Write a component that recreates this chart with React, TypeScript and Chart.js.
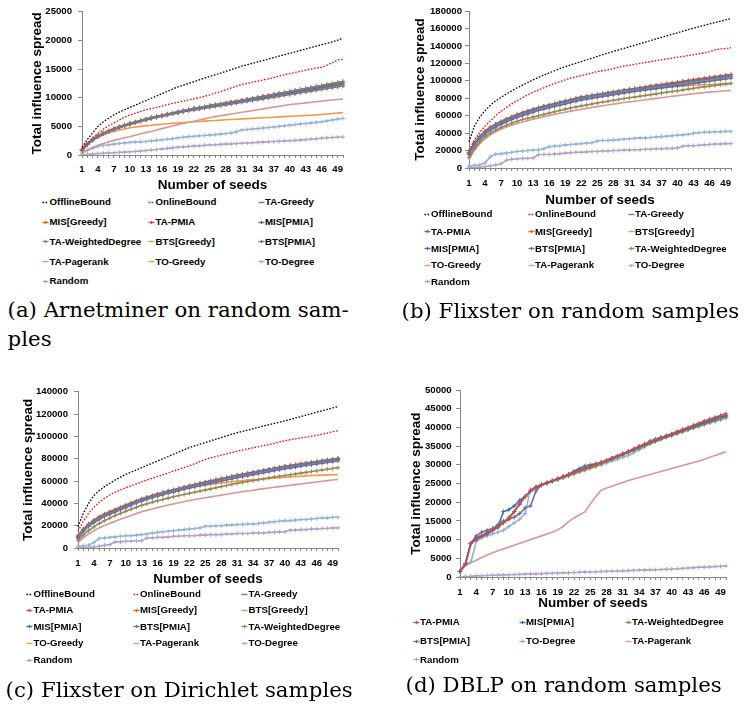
import React, { useEffect, useRef } from 'react';
import { Chart, registerables } from 'chart.js';
Chart.register(...registerables);

const SEEDS = ['1','2','3','4','5','6','7','8','9','10','11','12','13','14','15','16','17','18','19','20','21','22','23','24','25','26','27','28','29','30','31','32','33','34','35','36','37','38','39','40','41','42','43','44','45','46','47','48','49','50'];

// ---------- (a) Arnetminer on random samples ----------
const A_OFFLINE = [1350,2700,3900,5000,5800,6400,7000,7500,7900,8300,8700,9100,9500,9900,10300,10700,11100,11500,11900,12200,12500,12800,13100,13400,13700,14000,14300,14600,14900,15200,15500,15750,16000,16250,16500,16750,17000,17250,17500,17750,18000,18250,18500,18750,19000,19250,19500,19750,20050,20400];
const A_ONLINE = [1000,2000,3000,3800,4500,5100,5600,6100,6600,7000,7300,7600,7900,8100,8300,8550,8800,9000,9200,9400,9600,9800,10000,10250,10500,10800,11100,11400,11700,12000,12300,12500,12700,12900,13100,13300,13500,13750,14000,14200,14400,14600,14800,15000,15200,15300,15700,16100,16600,16700];
const A_TA_GREEDY = [900,1900,2700,3300,3800,4200,4600,4900,5200,5500,5750,6000,6250,6500,6700,6900,7100,7300,7500,7700,7900,8100,8250,8400,8600,8750,8900,9050,9200,9350,9500,9670,9840,10010,10180,10350,10520,10690,10860,11030,11200,11370,11540,11710,11880,12050,12220,12390,12560,12730];
const A_MIS_GREEDY = [950,1950,2750,3350,3850,4250,4650,4950,5250,5550,5800,6050,6300,6550,6750,6950,7150,7350,7550,7750,7950,8150,8300,8450,8650,8800,8950,9100,9250,9400,9550,9720,9890,10060,10230,10400,10570,10740,10910,11080,11250,11420,11590,11760,11930,12100,12280,12460,12640,12820];
const A_TA_PMIA = [880,1880,2680,3280,3780,4180,4580,4880,5180,5480,5730,5980,6230,6480,6690,6890,7090,7290,7490,7690,7890,8090,8240,8400,8600,8760,8920,9080,9240,9400,9560,9730,9900,10070,10240,10410,10580,10750,10920,11090,11260,11430,11600,11770,11940,12110,12280,12450,12620,12800];
const A_MIS_PMIA = [850,1850,2650,3250,3750,4150,4550,4850,5150,5450,5700,5950,6200,6450,6650,6850,7050,7250,7450,7650,7850,8050,8200,8350,8550,8700,8850,9000,9150,9300,9450,9610,9770,9930,10090,10250,10410,10570,10730,10890,11050,11210,11370,11530,11690,11850,12010,12170,12330,12500];
const A_TA_WD = [800,1800,2600,3200,3700,4100,4500,4800,5100,5400,5650,5900,6150,6400,6600,6800,7000,7200,7400,7600,7800,7950,8100,8250,8450,8600,8750,8900,9050,9200,9350,9500,9650,9800,9950,10100,10250,10400,10550,10700,10850,11000,11150,11300,11450,11600,11750,11900,12050,12200];
const A_BTS_GREEDY = [900,1900,2700,3300,3800,4200,4600,4900,5200,5500,5750,6000,6250,6500,6700,6900,7100,7300,7500,7700,7900,8050,8200,8350,8550,8700,8850,9000,9150,9300,9450,9600,9750,9900,10050,10200,10350,10500,10650,10800,10950,11100,11250,11400,11550,11700,11850,12000,12150,12300];
const A_BTS_PMIA = [850,1800,2600,3200,3700,4100,4450,4750,5050,5350,5600,5850,6100,6350,6550,6750,6950,7150,7350,7550,7700,7850,8000,8150,8300,8450,8600,8750,8900,9050,9200,9350,9500,9650,9800,9950,10100,10250,10400,10550,10700,10850,11000,11150,11300,11450,11600,11750,11900,12050];
const A_TA_PAGERANK = [400,900,1300,1700,2000,2300,2550,2800,3000,3200,3450,3700,3900,4100,4350,4600,4850,5050,5300,5500,5700,5900,6100,6300,6500,6700,6850,7000,7150,7300,7450,7600,7750,7900,8050,8200,8350,8500,8650,8800,8900,9000,9100,9200,9300,9400,9500,9600,9700,9800];
const A_TO_GREEDY = [900,1800,2500,3100,3500,3850,4100,4350,4550,4750,4900,5000,5100,5200,5300,5380,5450,5520,5580,5650,5720,5790,5850,5910,5970,6030,6090,6150,6200,6250,6300,6350,6400,6450,6500,6550,6600,6650,6700,6750,6800,6850,6900,6950,7000,7080,7160,7240,7320,7400];
const A_TO_DEGREE = [300,800,1200,1500,1650,1800,1900,2000,2100,2200,2250,2300,2350,2450,2550,2650,2750,2850,3000,3100,3200,3250,3350,3400,3500,3550,3650,3750,3850,4050,4350,4450,4550,4600,4700,4800,4900,5000,5100,5200,5300,5400,5500,5600,5700,5800,5950,6100,6250,6400];
const A_RANDOM = [0,100,200,250,300,350,400,450,500,560,620,700,780,860,950,1050,1150,1250,1350,1420,1480,1550,1620,1680,1740,1800,1850,1900,1950,2000,2050,2100,2150,2200,2250,2300,2350,2400,2450,2500,2550,2600,2680,2760,2840,2920,3000,3050,3100,3150];

// ---------- (b) Flixster on random samples ----------
const B_OFFLINE = [30000,48000,58000,66000,72000,77000,81000,85000,88500,92000,95000,98000,101000,104000,106500,109000,111500,114000,116000,118000,120000,122000,124000,126000,128000,130000,131800,133600,135400,137200,139000,140800,142600,144400,146200,148000,149800,151600,153300,155000,156800,158600,160400,162000,163600,165200,166800,168300,169800,171300];
const B_ONLINE = [20000,32000,41000,48000,54000,60000,65000,69500,73500,77000,80500,84000,87000,89500,92000,94500,97000,99000,101000,103000,104500,106000,107500,109000,110500,111500,112500,114000,115500,117000,118000,119000,120000,121000,122000,123000,124000,125000,126000,127000,128000,129000,130000,131000,132000,133500,135500,136500,137000,138000];
const B_TA_GREEDY = [17000,28000,35500,41500,46000,49500,52500,55500,58000,60500,62500,64500,66500,68500,70000,71500,73000,74500,76000,77500,79000,80500,81500,82500,83500,84500,85500,86500,87500,88500,89500,90300,91100,91900,92700,93500,94300,95100,95900,96700,97600,98500,99400,100300,101200,102100,103000,103900,104800,105700];
const B_TA_PMIA = [17500,28500,36000,42000,46500,50000,53000,56000,58600,61100,63200,65200,67200,69200,70800,72300,73800,75300,76800,78300,79800,81300,82300,83300,84300,85300,86300,87300,88300,89300,90300,91200,92100,93000,93900,94800,95700,96600,97500,98400,99300,100200,101100,102000,102900,103800,104700,105500,106300,107100];
const B_MIS_GREEDY = [17500,28500,36000,42000,46500,50000,53000,56000,58500,61000,63000,65000,67000,69000,70600,72100,73600,75100,76600,78100,79600,81000,82000,83000,84000,85000,86000,87000,88000,89000,90000,90900,91800,92700,93600,94500,95400,96300,97200,98100,99000,99900,100800,101700,102600,103500,104400,105200,106000,106800];
const B_BTS_GREEDY = [16500,27500,35000,41000,45500,49000,52000,55000,57500,60000,62000,64000,66000,68000,69500,71000,72500,74000,75500,77000,78500,80000,81000,82000,83000,84000,85000,86000,87000,88000,89000,89800,90600,91400,92200,93000,93800,94600,95400,96200,97000,97900,98800,99700,100600,101500,102400,103300,104100,104900];
const B_MIS_PMIA = [16500,27000,34500,40500,45000,48500,51500,54500,57000,59500,61500,63500,65500,67500,69000,70500,72000,73500,75000,76500,78000,79500,80500,81500,82500,83500,84500,85500,86500,87500,88500,89300,90100,90900,91700,92500,93300,94100,94900,95700,96600,97500,98400,99300,100200,101100,102000,102900,103800,104700];
const B_BTS_PMIA = [15500,26000,33500,39000,43500,47000,50000,53000,55500,58000,60000,62000,64000,66000,67500,69000,70500,72000,73500,75000,76500,78000,79000,80000,81000,82000,83000,84000,85000,86000,87000,87800,88600,89400,90200,91000,91800,92600,93400,94200,95000,95900,96800,97700,98600,99500,100400,101300,102200,103000];
const B_TA_WD = [12000,22000,30000,36000,40000,43500,46500,49000,51500,53500,55500,57000,58500,60000,61500,63000,64500,66000,67500,68800,70000,71200,72300,73400,74500,75600,76600,77600,78600,79600,80500,81400,82300,83200,84100,85000,85900,86800,87700,88600,89500,90400,91300,92200,93000,93800,94600,95400,96200,97000];
const B_TO_GREEDY = [18000,29000,36500,42500,47000,50500,53500,56500,59000,61500,63500,65500,67500,69300,70800,72300,73700,75000,76300,77600,78800,80000,81000,82000,83000,83900,84800,85700,86500,87300,88000,88700,89400,90100,90700,91300,91900,92500,93000,93500,94000,94400,94800,95200,95500,95800,96100,96400,96700,97000];
const B_TA_PAGERANK = [10000,20000,27500,33500,38000,41500,44500,47000,49000,51000,52800,54400,56000,57400,58800,60200,61500,62800,64000,65200,66300,67400,68400,69400,70400,71400,72300,73200,74100,75000,75800,76600,77400,78200,79000,79800,80600,81400,82200,83000,83700,84400,85100,85800,86500,87000,87500,88000,88500,89000];
const B_TO_DEGREE = [2000,3000,3500,6000,13000,16000,16500,17000,18000,19000,19500,20000,20500,21000,22000,24500,25000,25500,26500,27000,27500,28000,28500,29000,31000,31500,31500,32000,32500,33000,33500,34000,34500,34500,35000,35500,36000,36500,37000,37500,38000,38500,40000,40500,41000,41000,41500,41500,42000,42000];
const B_RANDOM = [0,500,1000,1500,2500,3500,5000,9000,10000,10500,11000,11000,11500,15500,15500,15500,16000,16500,17000,17500,18000,18000,18500,19000,19000,19500,19500,20000,20000,20500,20500,21000,21000,21500,21500,22000,22000,22500,22500,23000,25000,25500,25500,26000,26500,27000,27500,27500,28000,28000];

// ---------- (c) Flixster on Dirichlet samples ----------
const C_OFFLINE = [19000,31000,40000,47000,51500,55000,58000,61000,63500,66000,68000,70000,72000,74000,76000,78000,80000,82000,84000,86000,88000,90000,91500,93000,94500,96000,97500,99000,100500,102000,103300,104500,105700,106900,108100,109300,110500,111700,112800,113900,115200,116500,117800,119100,120400,121700,123000,124300,125500,126700];
const C_ONLINE = [15000,24000,31000,36500,41000,44500,47500,50000,52000,54000,55800,57500,59200,60900,62500,64100,65700,67300,68900,70500,72100,73700,75500,77500,79500,80800,82000,83200,84400,85600,86800,87800,88800,89800,90800,91800,92800,93800,95000,96200,97000,97800,98600,99400,100200,101000,102000,103000,104200,105200];
const C_TA_GREEDY = [10000,16000,20500,24000,27000,29500,31500,33500,35500,37500,39500,41500,43300,44900,46400,47800,49100,50400,51600,52800,54000,55200,56300,57400,58500,59600,60600,61600,62600,63600,64600,65500,66400,67300,68200,69100,70000,70900,71800,72700,73400,74100,74800,75500,76200,76900,77600,78300,79000,79700];
const C_TA_PMIA = [10500,16500,21000,24500,27500,30000,32000,34000,36000,38000,40000,42000,43800,45400,46900,48300,49600,50900,52100,53300,54500,55700,56800,57900,59000,60100,61100,62100,63100,64100,65100,66000,66900,67800,68700,69600,70500,71400,72300,73200,73900,74600,75300,76000,76700,77400,78100,78800,79500,80200];
const C_MIS_GREEDY = [11000,17000,21500,25000,28000,30500,32500,34500,36500,38500,40300,42100,43900,45500,47000,48400,49700,51000,52200,53400,54600,55800,56900,58000,59100,60200,61200,62200,63200,64200,65200,66100,67000,67900,68800,69700,70600,71500,72400,73300,74000,74700,75400,76100,76800,77500,78200,78900,79600,80400];
const C_BTS_GREEDY = [9800,15800,20300,23800,26800,29300,31300,33300,35300,37300,39300,41300,43100,44700,46200,47600,48900,50200,51400,52600,53800,55000,56100,57200,58300,59400,60400,61400,62400,63400,64400,65300,66200,67100,68000,68900,69800,70700,71600,72500,73200,73900,74600,75300,76000,76700,77400,78100,78800,79500];
const C_MIS_PMIA = [9500,15500,20000,23500,26500,29000,31000,33000,35000,37000,39000,41000,42800,44400,45900,47300,48600,49900,51100,52300,53500,54700,55800,56900,58000,59100,60100,61100,62100,63100,64100,65000,65900,66800,67700,68600,69500,70400,71300,72200,72900,73600,74300,75000,75700,76400,77100,77800,78500,79200];
const C_BTS_PMIA = [9000,14800,19300,22800,25800,28300,30300,32300,34300,36300,38300,40300,42000,43600,45100,46500,47700,49000,50200,51400,52600,53800,54900,56000,57000,58000,59000,60000,61000,62000,63000,63900,64800,65700,66600,67500,68400,69300,70200,71100,71800,72500,73200,73900,74600,75300,76000,76700,77400,78100];
const C_TA_WD = [7000,11500,15500,19000,22000,24500,26800,29000,31000,33000,34800,36500,38200,39600,41000,42300,43500,44700,45900,47000,48000,49000,50000,51000,52000,53000,54000,55000,56000,57000,58000,58800,59600,60400,61200,62000,62800,63600,64300,65000,65700,66400,67100,67800,68500,69200,69900,70600,71300,72000];
const C_TO_GREEDY = [11000,17000,21500,25000,28000,30500,32500,34500,36500,38300,40000,41700,43300,44800,46200,47600,48900,50100,51200,52200,53100,54000,54800,55600,56300,57000,57600,58200,58800,59400,60000,60400,60800,61200,61600,62000,62400,62800,63100,63400,63700,64000,64300,64600,64900,65100,65300,65500,65700,65900];
const C_TA_PAGERANK = [5000,9000,12500,15500,18000,20200,22200,24000,25800,27500,29200,30800,32400,33700,35000,36200,37400,38500,39500,40500,41500,42500,43400,44200,45000,45800,46600,47400,48200,49000,49700,50400,51100,51800,52500,53200,53800,54400,55000,55600,56200,56800,57400,58000,58600,59200,59800,60400,61000,61500];
const C_TO_DEGREE = [1500,2000,2500,5000,8500,9000,9500,10000,10500,11000,11000,11500,12000,12500,13500,14000,14500,15000,15500,16000,16500,17000,17500,18000,19500,19500,20000,20000,20500,20500,21000,21000,21500,21500,22000,22500,23000,23500,24000,24500,24500,25000,25500,25500,26000,26500,27000,27000,27500,27500];
const C_RANDOM = [0,500,500,1000,1500,2500,3000,5500,5500,6000,6000,6500,6500,9000,9000,9500,9500,10000,10500,10500,11000,11000,11000,11500,11500,12000,12000,12000,12500,12500,13000,13000,13000,13500,13500,13500,14000,14000,14500,14500,16000,16000,16500,16500,17000,17000,17500,17500,18000,18000];

// ---------- (d) DBLP on random samples ----------
const D_TA_PMIA = [1500,3500,9000,10000,11000,12000,12500,13500,14500,15500,17500,19500,21500,23000,24000,24700,25200,25700,26300,26800,27400,28000,28500,29100,29600,30100,30600,31200,31800,32400,33000,33600,34300,35000,35600,36200,36800,37300,37800,38300,38900,39500,40000,40600,41100,41700,42200,42700,43200,43700];
const D_MIS_PMIA = [1500,3500,9000,10500,11000,11500,12500,13500,17500,18000,19000,20500,21500,23000,24000,24700,25200,25700,26300,26900,27500,28300,29000,29700,30000,30300,30700,31200,31800,32300,32900,33500,34100,34800,35400,36000,36600,37100,37600,38100,38700,39200,39700,40300,40800,41300,41800,42300,42800,43200];
const D_TA_WD = [1500,3500,9000,10000,10800,11600,12400,13200,14500,16000,17500,19500,21500,23000,24000,24600,25100,25600,26100,26600,27100,27700,28200,28700,29200,29700,30200,30800,31400,32000,32600,33200,33800,34400,35000,35600,36200,36800,37300,37800,38300,38800,39300,39800,40300,40800,41300,41800,42300,42800];
const D_BTS_PMIA = [1500,3500,9000,11000,12000,12500,13000,14000,15000,15500,16000,17000,18500,19000,23000,24600,25200,25700,26200,26800,27400,28000,28500,29000,29500,30000,30500,31100,31700,32300,32900,33500,34100,34800,35400,36000,36500,37000,37500,38000,38500,39000,39500,40000,40500,41000,41500,42000,42500,43000];
const D_TO_DEGREE = [1500,3500,4000,9500,10500,11000,11500,12000,12500,13500,14500,15500,17000,23500,24000,24500,25000,25500,26000,26500,27000,27500,28000,28500,29000,29500,30000,30500,31000,31500,32000,32500,33200,34000,34800,36500,37000,37400,37800,38200,38600,39000,39500,40000,40400,40800,41200,41600,42000,42500];
const D_TA_PAGERANK = [1500,3000,3800,4500,5200,5900,6500,7000,7500,8000,8500,9000,9500,10000,10500,11000,11500,12000,12600,13500,14800,15800,16600,17400,19500,21500,23200,23800,24300,24800,25300,25800,26200,26600,27000,27400,27800,28200,28600,29000,29400,29800,30200,30600,31000,31500,32000,32500,33000,33500];
const D_RANDOM = [0,150,200,300,350,400,480,500,560,600,650,700,780,800,850,900,980,1000,1050,1100,1150,1200,1280,1300,1350,1400,1480,1500,1550,1600,1650,1700,1780,1800,1850,1900,1950,2000,2050,2100,2200,2300,2400,2500,2600,2650,2700,2800,2850,2950];

const SANS = "'Liberation Sans', Arial, sans-serif";
const SERIF = "'DejaVu Serif', serif";

type Style = { color: string; dash?: boolean; marker?: boolean };
const STYLE: Record<string, Style> = {
  'OfflineBound': { color: '#000000', dash: true },
  'OnlineBound': { color: '#FF0000', dash: true },
  'TA-Greedy': { color: '#4F81BD' },
  'MIS[Greedy]': { color: '#E46C0A', marker: true },
  'TA-PMIA': { color: '#C0504D', marker: true },
  'MIS[PMIA]': { color: '#3C6EB4', marker: true },
  'TA-WeightedDegree': { color: '#948A54', marker: true },
  'BTS[Greedy]': { color: '#9BBB59' },
  'BTS[PMIA]': { color: '#8064A2', marker: true },
  'TA-Pagerank': { color: '#D99694' },
  'TO-Greedy': { color: '#F79646' },
  'TO-Degree': { color: '#95B3D7', marker: true },
  'Random': { color: '#B3A2C7', marker: true },
};

const ORDER_A = ['OfflineBound','OnlineBound','TA-Greedy','MIS[Greedy]','TA-PMIA','MIS[PMIA]','TA-WeightedDegree','BTS[Greedy]','BTS[PMIA]','TA-Pagerank','TO-Greedy','TO-Degree','Random'];
const ORDER_BC = ['OfflineBound','OnlineBound','TA-Greedy','TA-PMIA','MIS[Greedy]','BTS[Greedy]','MIS[PMIA]','BTS[PMIA]','TA-WeightedDegree','TO-Greedy','TA-Pagerank','TO-Degree','Random'];
const ORDER_D = ['TA-PMIA','MIS[PMIA]','TA-WeightedDegree','BTS[PMIA]','TO-Degree','TA-Pagerank','Random'];

const DATA_A: Record<string, number[]> = {
  'OfflineBound': A_OFFLINE, 'OnlineBound': A_ONLINE, 'TA-Greedy': A_TA_GREEDY, 'MIS[Greedy]': A_MIS_GREEDY,
  'TA-PMIA': A_TA_PMIA, 'MIS[PMIA]': A_MIS_PMIA, 'TA-WeightedDegree': A_TA_WD, 'BTS[Greedy]': A_BTS_GREEDY,
  'BTS[PMIA]': A_BTS_PMIA, 'TA-Pagerank': A_TA_PAGERANK, 'TO-Greedy': A_TO_GREEDY, 'TO-Degree': A_TO_DEGREE, 'Random': A_RANDOM,
};
const DATA_B: Record<string, number[]> = {
  'OfflineBound': B_OFFLINE, 'OnlineBound': B_ONLINE, 'TA-Greedy': B_TA_GREEDY, 'TA-PMIA': B_TA_PMIA,
  'MIS[Greedy]': B_MIS_GREEDY, 'BTS[Greedy]': B_BTS_GREEDY, 'MIS[PMIA]': B_MIS_PMIA, 'BTS[PMIA]': B_BTS_PMIA,
  'TA-WeightedDegree': B_TA_WD, 'TO-Greedy': B_TO_GREEDY, 'TA-Pagerank': B_TA_PAGERANK, 'TO-Degree': B_TO_DEGREE, 'Random': B_RANDOM,
};
const DATA_C: Record<string, number[]> = {
  'OfflineBound': C_OFFLINE, 'OnlineBound': C_ONLINE, 'TA-Greedy': C_TA_GREEDY, 'TA-PMIA': C_TA_PMIA,
  'MIS[Greedy]': C_MIS_GREEDY, 'BTS[Greedy]': C_BTS_GREEDY, 'MIS[PMIA]': C_MIS_PMIA, 'BTS[PMIA]': C_BTS_PMIA,
  'TA-WeightedDegree': C_TA_WD, 'TO-Greedy': C_TO_GREEDY, 'TA-Pagerank': C_TA_PAGERANK, 'TO-Degree': C_TO_DEGREE, 'Random': C_RANDOM,
};
const DATA_D: Record<string, number[]> = {
  'TA-PMIA': D_TA_PMIA, 'MIS[PMIA]': D_MIS_PMIA, 'TA-WeightedDegree': D_TA_WD, 'BTS[PMIA]': D_BTS_PMIA,
  'TO-Degree': D_TO_DEGREE, 'TA-Pagerank': D_TA_PAGERANK, 'Random': D_RANDOM,
};

type Panel = {
  x: number; y: number; w: number; h: number;
  padTop: number; padRight: number; yW: number; xH: number;
  yMax: number; yStep: number; yTickPad: number; xTickPad: number; yTitlePad: number; xTitlePad: number;
  order: string[]; data: Record<string, number[]>;
  legendX: number[]; legendY: number[];
  caption: { text: string; x: number; top: number }[];
};

const PANELS: Panel[] = [
  { x: 0, y: 0, w: 370, h: 195, padTop: 6, padRight: 27, yW: 82, xH: 40, yMax: 25000, yStep: 5000,
    yTickPad: 6, xTickPad: 5.2, yTitlePad: 29.4, xTitlePad: 1.9, order: ORDER_A, data: DATA_A,
    legendX: [49.5, 155.5, 265], legendY: [202, 222, 241.5, 261.5, 281],
    caption: [{ text: '(a) Arnetminer on random sam-', x: 7.6, top: 299.4 }, { text: 'ples', x: 7.6, top: 328.4 }] },
  { x: 370, y: 0, w: 375, h: 210, padTop: 11, padRight: 14, yW: 99, xH: 42, yMax: 180000, yStep: 20000,
    yTickPad: 3, xTickPad: 6.2, yTitlePad: 41.9, xTitlePad: 1.9, order: ORDER_BC, data: DATA_B,
    legendX: [431, 535, 635], legendY: [214, 231.5, 248.5, 265, 281.5],
    caption: [{ text: '(b) Flixster on random samples', x: 401.6, top: 299.9 }] },
  { x: 0, y: 380, w: 370, h: 209, padTop: 10, padRight: 32, yW: 78, xH: 41, yMax: 140000, yStep: 20000,
    yTickPad: 6, xTickPad: 6.2, yTitlePad: 19.9, xTitlePad: 1.9, order: ORDER_BC, data: DATA_C,
    legendX: [33.5, 140, 248.5], legendY: [594, 610, 626.5, 643, 660],
    caption: [{ text: '(c) Flixster on Dirichlet samples', x: 5.6, top: 678.9 }] },
  { x: 370, y: 380, w: 375, h: 233, padTop: 9, padRight: 19, yW: 90, xH: 36, yMax: 50000, yStep: 5000,
    yTickPad: 4.3, xTickPad: 6.2, yTitlePad: 38.4, xTitlePad: 1.9, order: ORDER_D, data: DATA_D,
    legendX: [420, 526, 632], legendY: [622, 641, 659.5],
    caption: [{ text: '(d) DBLP on random samples', x: 405.6, top: 673.9 }] },
];

const TICK_FONT = { family: SANS, size: 9.6, weight: 'bold' as const };
const TITLE_FONT = { family: SANS, size: 13.5, weight: 'bold' as const };
const AXIS_GRAY = '#868686';
const CAPTION_SIZE = 21.3;

function ChartPanel({ p }: { p: Panel }) {
  const ref = useRef<HTMLCanvasElement>(null);
  useEffect(() => {
    const datasets = p.order.map((name) => {
      const s = STYLE[name];
      return {
        label: name,
        data: p.data[name],
        borderColor: s.color,
        backgroundColor: s.color,
        borderWidth: s.dash ? 1.3 : 1.6,
        borderDash: s.dash ? [1.6, 1.6] : [],
        pointRadius: s.marker ? 2.2 : 0,
        pointStyle: 'cross',
        pointBorderWidth: 1,
        pointBorderColor: s.color,
        tension: 0,
        fill: false,
      };
    });
    const chart = new Chart(ref.current as HTMLCanvasElement, {
      type: 'line',
      data: { labels: SEEDS, datasets },
      options: {
        animation: false,
        responsive: false,
        devicePixelRatio: 1,
        events: [],
        layout: { padding: { left: 0, right: p.padRight, top: p.padTop, bottom: 0 } },
        plugins: { legend: { display: false }, tooltip: { enabled: false } },
        scales: {
          x: {
            type: 'category',
            offset: false,
            grid: { display: true, drawOnChartArea: false, drawTicks: true, tickLength: 3, color: AXIS_GRAY },
            border: { display: true, color: AXIS_GRAY, width: 1 },
            ticks: {
              autoSkip: false, maxRotation: 0, minRotation: 0, padding: p.xTickPad, font: TICK_FONT, color: '#000',
              callback: (_v: any, i: number) => (i % 3 === 0 ? SEEDS[i] : ''),
            },
            title: { display: true, text: 'Number of seeds', font: TITLE_FONT, color: '#000', padding: { top: 0, bottom: p.xTitlePad } },
            afterFit: (s: any) => { s.height = p.xH; },
          },
          y: {
            min: 0, max: p.yMax,
            grid: { display: true, drawOnChartArea: false, drawTicks: true, tickLength: 4, color: AXIS_GRAY },
            border: { display: true, color: AXIS_GRAY, width: 1 },
            ticks: { stepSize: p.yStep, padding: p.yTickPad, font: TICK_FONT, color: '#000', callback: (v: any) => String(v) },
            title: { display: true, text: 'Total influence spread', font: TITLE_FONT, color: '#000', padding: { top: p.yTitlePad, bottom: 0 } },
            afterFit: (s: any) => { s.width = p.yW; },
          },
        },
      } as any,
    });
    return () => chart.destroy();
  }, []);
  return (
    <canvas ref={ref} width={p.w} height={p.h}
      style={{ position: 'absolute', left: p.x, top: p.y, width: p.w, height: p.h }} />
  );
}

function Marker({ s, left, top }: { s: Style; left: number; top: number }) {
  return (
    <svg width={7} height={7} style={{ position: 'absolute', left, top }}>
      <line x1={0.5} y1={3.5} x2={6.5} y2={3.5} stroke={s.color} strokeWidth={1.4}
        strokeDasharray={s.dash ? '1.6 1.4' : undefined} />
      {s.marker ? <line x1={3.5} y1={1.8} x2={3.5} y2={5.2} stroke={s.color} strokeWidth={1.2} /> : null}
    </svg>
  );
}

function Legend({ p }: { p: Panel }) {
  return (
    <>
      {p.order.map((name, i) => {
        const col = i % 3;
        const row = Math.floor(i / 3);
        const tx = p.legendX[col];
        const ty = p.legendY[row];
        return (
          <React.Fragment key={name}>
            <Marker s={STYLE[name]} left={tx - 7.5} top={ty - 3.5} />
            <div style={{ position: 'absolute', left: tx, top: ty - 6, fontFamily: SANS, fontSize: 9.7,
              fontWeight: 'bold', lineHeight: '12px', whiteSpace: 'nowrap', color: '#000' }}>{name}</div>
          </React.Fragment>
        );
      })}
    </>
  );
}

function Caption({ p }: { p: Panel }) {
  return (
    <>
      {p.caption.map((c, i) => (
        <div key={i} style={{ position: 'absolute', left: c.x, top: c.top, fontFamily: SERIF, fontSize: CAPTION_SIZE,
          lineHeight: CAPTION_SIZE + 'px', whiteSpace: 'nowrap', color: '#000' }}>{c.text}</div>
      ))}
    </>
  );
}

export default function App() {
  return (
    <div style={{ position: 'absolute', left: 0, top: 0, width: 745, height: 709, background: '#fff', overflow: 'hidden' }}>
      {PANELS.map((p, i) => (
        <React.Fragment key={i}>
          <ChartPanel p={p} />
          <Legend p={p} />
          <Caption p={p} />
        </React.Fragment>
      ))}
    </div>
  );
}
